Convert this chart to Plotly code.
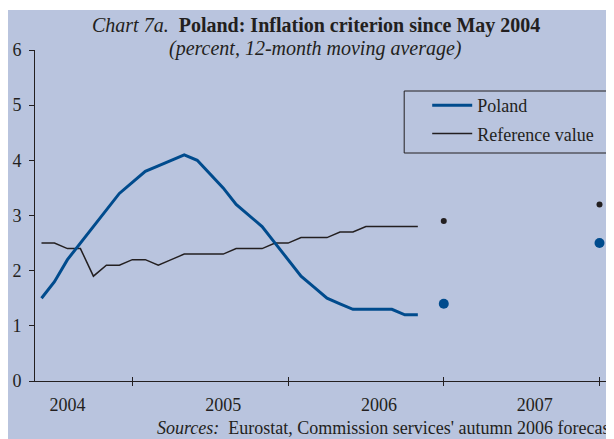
import plotly.graph_objects as go

# ---------------- data ----------------
# monthly categories of the x axis (May 2004 .. Dec 2007)
all_months = [f"{y}-{m:02d}" for y in range(2004, 2008) for m in range(1, 13)]
all_months = all_months[all_months.index("2004-05"):]

hist_months = all_months[:all_months.index("2006-10") + 1]
poland = [1.5, 1.8, 2.2, 2.5, 2.8, 3.1, 3.4, 3.6, 3.8, 3.9, 4.0, 4.1,
          4.0, 3.75, 3.5, 3.2, 3.0, 2.8, 2.5, 2.2, 1.9, 1.7, 1.5, 1.4,
          1.3, 1.3, 1.3, 1.3, 1.2, 1.2]
reference = [2.5, 2.5, 2.4, 2.4, 1.9, 2.1, 2.1, 2.2, 2.2, 2.1, 2.2, 2.3,
             2.3, 2.3, 2.3, 2.4, 2.4, 2.4, 2.5, 2.5, 2.6, 2.6, 2.6, 2.7,
             2.7, 2.8, 2.8, 2.8, 2.8, 2.8]

forecast_months = ["2006-12", "2007-12"]
poland_forecast = [1.4, 2.5]
reference_forecast = [2.9, 3.2]

tick_months = ["2004-12", "2005-12", "2006-12", "2007-12"]
label_months = ["2004-07", "2005-07", "2006-07", "2007-07"]
label_text = ["2004", "2005", "2006", "2007"]
y_ticks = [0, 1, 2, 3, 4, 5, 6]

series_names = ["Poland", "Reference value"]

# ---------------- style ----------------
BLUE = "#004B8D"
DARK = "#231F20"
BG = "#B9C4DE"
FONT = "Liberation Serif"

W, H = 614, 439
OFF = 8  # page offset of the figure (body margin)
L, R, T, B = 27, 16.3, 42, 66
PW, PH = W - L - R, H - T - B


def px(x_page):
    return (x_page - OFF - L) / PW


def py(y_page):
    return (H - B - (y_page - OFF)) / PH


def idx(months):
    return [all_months.index(m) for m in months]


x_range = [-0.5, len(all_months) - 0.5]

fig = go.Figure()

fig.add_trace(go.Scatter(
    x=idx(hist_months), y=reference, mode="lines", name=series_names[1],
    line=dict(color=DARK, width=1.5), legendgroup="b", legendrank=2))
fig.add_trace(go.Scatter(
    x=idx(hist_months), y=poland, mode="lines", name=series_names[0],
    line=dict(color=BLUE, width=3), legendgroup="a", legendrank=1))
fig.add_trace(go.Scatter(
    x=idx(forecast_months), y=reference_forecast, mode="markers",
    marker=dict(color=DARK, size=6), showlegend=False))
fig.add_trace(go.Scatter(
    x=idx(forecast_months), y=poland_forecast, mode="markers",
    marker=dict(color=BLUE, size=10), showlegend=False))

axis_common = dict(range=x_range, showgrid=False, zeroline=False, automargin=False)

fig.update_layout(
    width=W, height=H,
    margin=dict(l=L, r=R, t=T, b=B, pad=0),
    paper_bgcolor="white",
    plot_bgcolor="rgba(0,0,0,0)",
    font=dict(family=FONT, color=DARK, size=18),
    showlegend=True,
    legend=dict(
        x=px(427), y=py(87), xanchor="left", yanchor="top",
        bgcolor="rgba(0,0,0,0)", borderwidth=0,
        font=dict(family=FONT, size=18, color=DARK),
        itemwidth=40, tracegroupgap=2, traceorder="grouped",
    ),
    xaxis=dict(
        **axis_common, tickmode="array", tickvals=idx(tick_months),
        ticks="outside", ticklen=4, tickcolor=DARK, tickwidth=1,
        showticklabels=False, showline=True, linecolor=DARK, linewidth=1,
    ),
    xaxis2=dict(
        **axis_common, overlaying="x", anchor="y", side="bottom",
        tickmode="array", tickvals=idx(tick_months),
        ticks="inside", ticklen=4, tickcolor=DARK, tickwidth=1,
        showticklabels=False, showline=False,
    ),
    xaxis3=dict(
        **axis_common, overlaying="x", anchor="y", side="bottom",
        tickmode="array", tickvals=idx(label_months), ticktext=label_text,
        ticks="", showline=False, ticklabelstandoff=11,
        tickfont=dict(family=FONT, size=18, color=DARK),
    ),
    yaxis=dict(
        range=[0, 6], tickmode="array", tickvals=y_ticks,
        ticks="outside", ticklen=5, tickcolor=DARK, tickwidth=1,
        showline=True, linecolor=DARK, linewidth=1, automargin=False,
        showgrid=False, zeroline=False, ticklabelstandoff=4,
        tickfont=dict(family=FONT, size=18, color=DARK),
    ),
)

# invisible helper traces so the overlay axes are drawn
fig.add_trace(go.Scatter(x=[None], y=[None], xaxis="x2", showlegend=False, hoverinfo="skip"))
fig.add_trace(go.Scatter(x=[None], y=[None], xaxis="x3", showlegend=False, hoverinfo="skip"))

# lavender chart background and legend frame
fig.add_shape(type="rect", xref="paper", yref="paper", layer="below",
              x0=px(OFF - 2), x1=px(W + OFF + 2), y0=py(H + OFF + 2), y1=py(10),
              fillcolor=BG, line=dict(width=0))
fig.add_shape(type="rect", xref="paper", yref="paper", layer="above",
              x0=px(404), x1=px(612), y0=py(153), y1=py(91),
              fillcolor="rgba(0,0,0,0)", line=dict(color=DARK, width=1))

# titles and source
fig.add_annotation(
    xref="paper", yref="paper", x=px(315.5), y=py(25), xanchor="center", yanchor="middle",
    text="<i>Chart 7a.</i>  <b>Poland: Inflation criterion since May 2004</b>",
    showarrow=False, font=dict(family=FONT, size=20, color=DARK))
fig.add_annotation(
    xref="paper", yref="paper", x=px(315.5), y=py(49), xanchor="center", yanchor="middle",
    text="<i>(percent, 12-month moving average)</i>",
    showarrow=False, font=dict(family=FONT, size=20, color=DARK))
fig.add_annotation(
    xref="paper", yref="paper", x=px(155), y=py(428), xanchor="left", yanchor="middle",
    text="<i>Sources:</i>  Eurostat, Commission services' autumn 2006 forecasts",
    showarrow=False, font=dict(family=FONT, size=18, color=DARK))

fig.write_html("out.html")
